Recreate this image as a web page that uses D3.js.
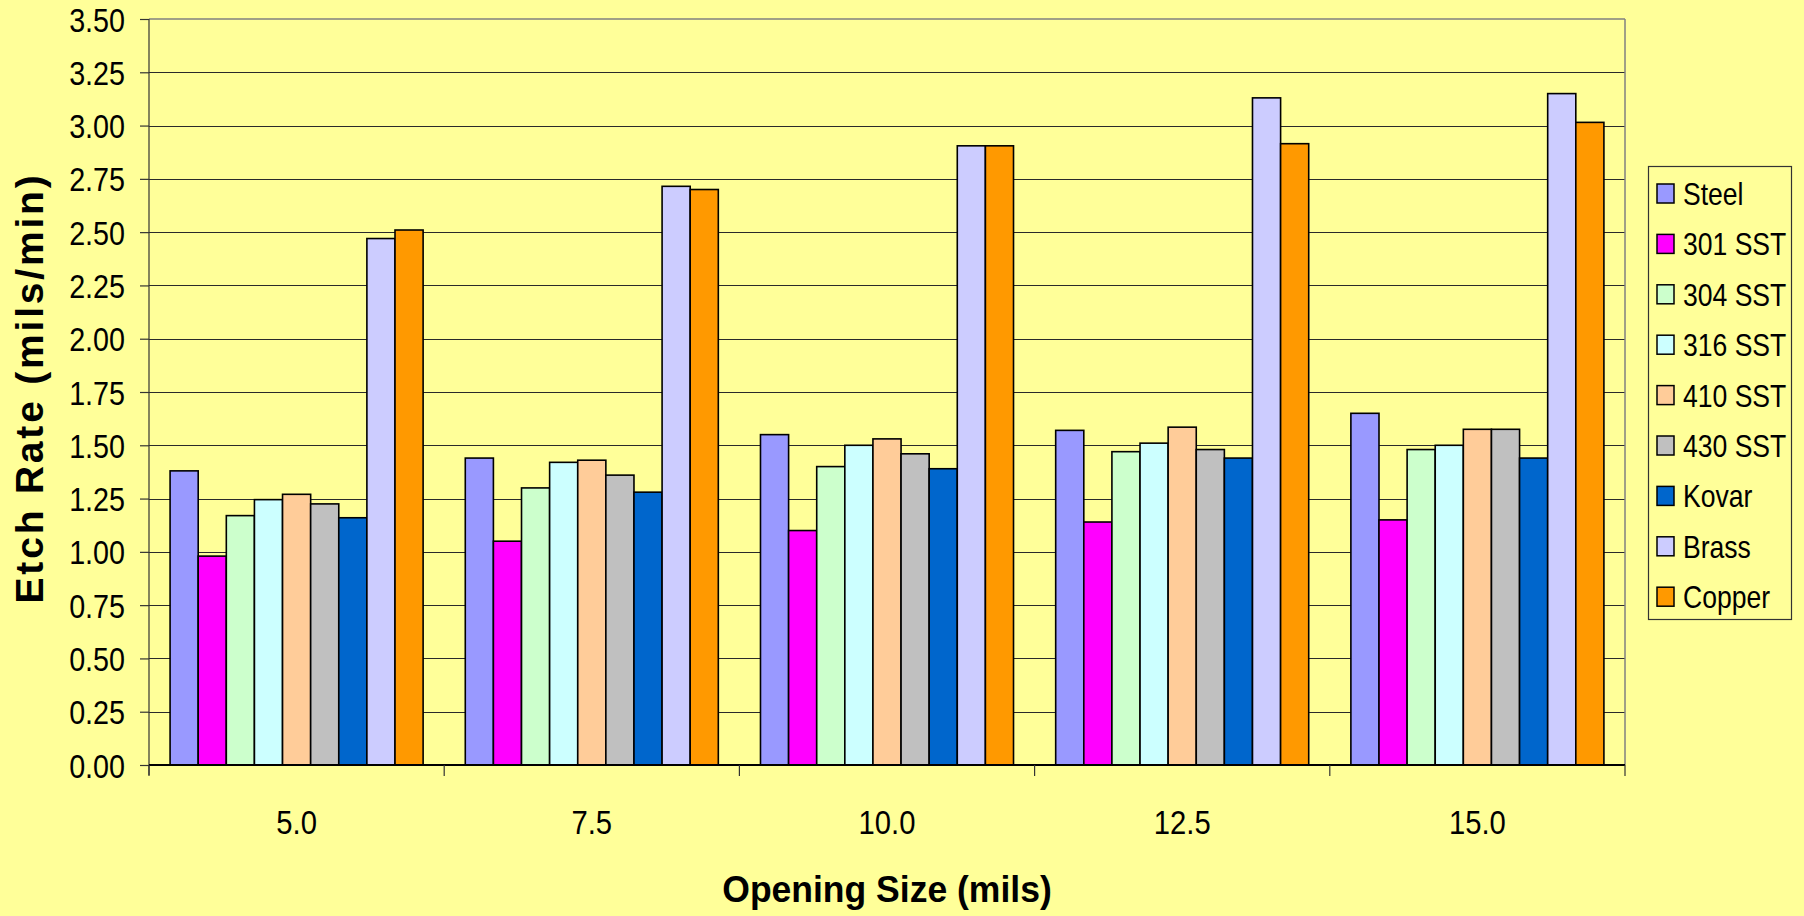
<!DOCTYPE html>
<html>
<head>
<meta charset="utf-8">
<script src="https://cdn.jsdelivr.net/npm/d3@7"></script>
<style>
  html, body { margin: 0; padding: 0; background: #FFFF99; }
  svg { display: block; }
  text { font-family: "Liberation Sans", Arial, sans-serif; fill: #000; }
</style>
</head>
<body>
<svg id="chart" width="1804" height="916"></svg>
<script>
// ---- Data ----
const categories = ["5.0", "7.5", "10.0", "12.5", "15.0"];
const seriesNames = ["Steel", "301 SST", "304 SST", "316 SST", "410 SST", "430 SST", "Kovar", "Brass", "Copper"];
const steel  = [1.38, 1.44, 1.55, 1.57, 1.65];
const sst301 = [0.98, 1.05, 1.10, 1.14, 1.15];
const sst304 = [1.17, 1.30, 1.40, 1.47, 1.48];
const sst316 = [1.245, 1.42, 1.50, 1.51, 1.50];
const sst410 = [1.27, 1.43, 1.53, 1.585, 1.575];
const sst430 = [1.225, 1.36, 1.46, 1.48, 1.575];
const kovar  = [1.16, 1.28, 1.39, 1.44, 1.44];
const brass  = [2.47, 2.715, 2.905, 3.13, 3.15];
const copper = [2.51, 2.70, 2.905, 2.915, 3.015];
const yTicks = [0, 0.25, 0.5, 0.75, 1.0, 1.25, 1.5, 1.75, 2.0, 2.25, 2.5, 2.75, 3.0, 3.25, 3.5];
const colors = ["#9999FF", "#FF00FF", "#CCFFCC", "#CCFFFF", "#FFCC99", "#C0C0C0", "#0066CC", "#CCCCFF", "#FF9900"];

const seriesValues = [steel, sst301, sst304, sst316, sst410, sst430, kovar, brass, copper];

// ---- Layout ----
const svg = d3.select("#chart");
const plot = { left: 149, right: 1625, top: 19, bottom: 765 };

svg.append("rect").attr("x", 0).attr("y", 0).attr("width", 1804).attr("height", 916).attr("fill", "#FFFF99");

const x0 = d3.scaleBand().domain(categories).range([plot.left, plot.right]).paddingInner(0).paddingOuter(0);
const x1 = d3.scaleBand().domain(seriesNames).range([0, x0.bandwidth()]).paddingInner(0).paddingOuter(0.75);
const y = d3.scaleLinear().domain([0, 3.5]).range([plot.bottom, plot.top]);

// gridlines
svg.append("g").selectAll("line").data(yTicks.filter(t => t > 0 && t < 3.5)).join("line")
  .attr("x1", plot.left).attr("x2", plot.right)
  .attr("y1", d => Math.round(y(d)) + 0.5).attr("y2", d => Math.round(y(d)) + 0.5)
  .attr("stroke", "#2a2a2a").attr("stroke-width", 1.2);

// top & right border
svg.append("line").attr("x1", plot.left).attr("x2", plot.right).attr("y1", plot.top).attr("y2", plot.top)
  .attr("stroke", "#808080").attr("stroke-width", 1.5);
svg.append("line").attr("x1", plot.right).attr("x2", plot.right).attr("y1", plot.top).attr("y2", plot.bottom)
  .attr("stroke", "#808080").attr("stroke-width", 1.5);

// bars
const groups = svg.append("g").selectAll("g").data(categories).join("g")
  .attr("transform", d => `translate(${x0(d)},0)`);
groups.selectAll("rect").data((c, ci) => seriesNames.map((s, si) => ({ s, si, v: seriesValues[si][ci] }))).join("rect")
  .attr("x", d => x1(d.s))
  .attr("y", d => y(d.v))
  .attr("width", x1.bandwidth())
  .attr("height", d => y(0) - y(d.v))
  .attr("fill", d => colors[d.si])
  .attr("stroke", "#000").attr("stroke-width", 1.6);

// y axis
const yAxis = d3.axisLeft(y).tickValues(yTicks).tickFormat(d3.format(".2f")).tickSize(9).tickPadding(0);
const yg = svg.append("g").attr("transform", `translate(${plot.left},0)`).call(yAxis);
yg.select(".domain").attr("stroke", "#333").attr("stroke-width", 1.2).attr("d", `M0,${plot.top}V${plot.bottom + 10}`);
yg.selectAll(".tick line").attr("stroke", "#333").attr("stroke-width", 1.2);
yg.selectAll(".tick text")
  .attr("font-size", 33).attr("font-family", "Liberation Sans, Arial, sans-serif").attr("fill", "#000")
  .attr("x", null).attr("dy", null)
  .attr("transform", "translate(-24,12) scale(0.87,1)")
  .attr("text-anchor", "end");

// x axis
const xg = svg.append("g").attr("transform", `translate(0,${plot.bottom})`);
xg.append("line").attr("x1", plot.left).attr("x2", plot.right).attr("y1", 0).attr("y2", 0)
  .attr("stroke", "#000").attr("stroke-width", 2.2);
const boundaries = categories.map(c => x0(c)).concat([x0(categories[categories.length - 1]) + x0.bandwidth()]);
xg.selectAll("line.sep").data(boundaries).join("line").attr("class", "sep")
  .attr("x1", d => d).attr("x2", d => d).attr("y1", 0).attr("y2", 11)
  .attr("stroke", "#333").attr("stroke-width", 1.2);
xg.selectAll("text.lbl").data(categories).join("text").attr("class", "lbl")
  .attr("transform", d => `translate(${x0(d) + x0.bandwidth() / 2},69) scale(0.86,1)`)
  .attr("text-anchor", "middle").attr("font-size", 34).text(d => d);

// axis titles
svg.append("text").attr("x", (plot.left + plot.right) / 2).attr("y", 902)
  .attr("text-anchor", "middle").attr("font-size", 37).attr("font-weight", "bold")
  .attr("transform", `translate(${(plot.left + plot.right) / 2},0) scale(0.96,1) translate(${-(plot.left + plot.right) / 2},0)`)
  .text("Opening Size (mils)");

svg.append("text")
  .attr("transform", `translate(43,${(plot.top + plot.bottom) / 2 - 4}) rotate(-90)`)
  .attr("text-anchor", "middle").attr("font-size", 39).attr("font-weight", "bold")
  .attr("letter-spacing", 2.8)
  .text("Etch Rate (mils/min)");

// legend
const lg = svg.append("g");
lg.append("rect").attr("x", 1648.5).attr("y", 166.5).attr("width", 143).attr("height", 453)
  .attr("fill", "#FFFF99").attr("stroke", "#333").attr("stroke-width", 1.2);
const items = lg.selectAll("g.item").data(seriesNames).join("g").attr("class", "item")
  .attr("transform", (d, i) => `translate(0,${193.5 + i * 50.4})`);
items.append("rect").attr("x", 1657).attr("y", -9.5).attr("width", 17).attr("height", 19)
  .attr("fill", (d, i) => colors[i]).attr("stroke", "#000").attr("stroke-width", 1.5);
items.append("text").attr("transform", "translate(1683,11.5) scale(0.83,1)")
  .attr("font-size", 32).text(d => d);
</script>
</body>
</html>
